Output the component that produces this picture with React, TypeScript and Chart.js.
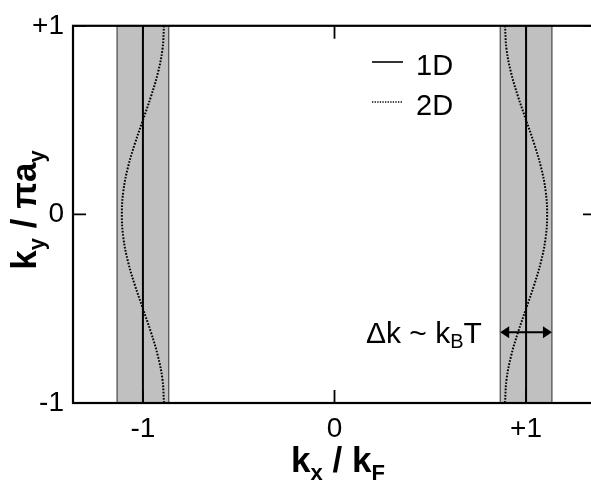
import React, { useEffect, useRef } from 'react';
import { Chart, registerables } from 'chart.js';

Chart.register(...registerables);

const FONT = '"Liberation Sans", Arial, Helvetica, sans-serif';

// ---- data ----
const xTickValues = [-1, 0, 1];
const xTickLabels = ['-1', '0', '+1'];
const yTickValues = [-1, 0, 1];
const yTickLabels = ['-1', '0', '+1'];
const xRange = [-1.365, 1.365];
const yRange = [-1, 1];
const fermiLines1D = [-1, 1];
const bandLeft = [-1.135, -0.865];
const bandRight = [0.865, 1.135];
const curveY = [-1, -0.875, -0.75, -0.625, -0.5, -0.375, -0.25, -0.125, 0, 0.125, 0.25, 0.375, 0.5, 0.625, 0.75, 0.875, 1];
const curveLeftX = [-0.89, -0.898, -0.922, -0.958, -1.0, -1.042, -1.078, -1.102, -1.11, -1.102, -1.078, -1.042, -1.0, -0.958, -0.922, -0.898, -0.89];
const curveRightX = [0.89, 0.898, 0.922, 0.958, 1.0, 1.042, 1.078, 1.102, 1.11, 1.102, 1.078, 1.042, 1.0, 0.958, 0.922, 0.898, 0.89];
const arrowY = -0.625;
const legendLabels = ['1D', '2D'];

type Part = { t: string; font: string; dy: number };

function drawRich(ctx: CanvasRenderingContext2D, parts: Part[], cx: number, baseY: number) {
  let total = 0;
  parts.forEach((p) => {
    ctx.font = p.font;
    total += ctx.measureText(p.t).width;
  });
  let x = cx - total / 2;
  ctx.textAlign = 'left';
  ctx.textBaseline = 'alphabetic';
  parts.forEach((p) => {
    ctx.font = p.font;
    ctx.fillText(p.t, x, baseY + p.dy);
    x += ctx.measureText(p.t).width;
  });
}

const decor = {
  id: 'decor',
  beforeDatasetsDraw(chart: any) {
    const { ctx, chartArea, scales } = chart;
    const { top, bottom } = chartArea;
    ctx.save();
    ctx.fillStyle = '#c0c0c0';
    [bandLeft, bandRight].forEach(([a, b]) => {
      const xa = scales.x.getPixelForValue(a);
      const xb = scales.x.getPixelForValue(b);
      ctx.fillRect(xa, top, xb - xa, bottom - top);
    });
    ctx.restore();
  },
  afterDatasetsDraw(chart: any) {
    const { ctx, chartArea, scales } = chart;
    const { left, right, top, bottom } = chartArea;
    const xs = scales.x;
    const ys = scales.y;
    ctx.save();
    // frame
    ctx.strokeStyle = '#000';
    ctx.lineWidth = 2.2;
    ctx.strokeRect(left, top, right - left, bottom - top);
    // inward ticks
    ctx.lineWidth = 1.8;
    const tl = 13;
    ctx.beginPath();
    xTickValues.forEach((v) => {
      const px = xs.getPixelForValue(v);
      ctx.moveTo(px, bottom);
      ctx.lineTo(px, bottom - tl);
      ctx.moveTo(px, top);
      ctx.lineTo(px, top + tl);
    });
    yTickValues.forEach((v) => {
      const py = ys.getPixelForValue(v);
      ctx.moveTo(left, py);
      ctx.lineTo(left + tl, py);
      ctx.moveTo(right, py);
      ctx.lineTo(right - tl, py);
    });
    ctx.stroke();

    // double arrow across right band
    const ay = ys.getPixelForValue(arrowY);
    const ax1 = xs.getPixelForValue(bandRight[0]);
    const ax2 = xs.getPixelForValue(bandRight[1]);
    const ah = 9;
    const aw = 6;
    ctx.lineWidth = 2;
    ctx.beginPath();
    ctx.moveTo(ax1 + ah - 1, ay);
    ctx.lineTo(ax2 - ah + 1, ay);
    ctx.stroke();
    ctx.fillStyle = '#000';
    ctx.beginPath();
    ctx.moveTo(ax1, ay);
    ctx.lineTo(ax1 + ah, ay - aw);
    ctx.lineTo(ax1 + ah, ay + aw);
    ctx.closePath();
    ctx.fill();
    ctx.beginPath();
    ctx.moveTo(ax2, ay);
    ctx.lineTo(ax2 - ah, ay - aw);
    ctx.lineTo(ax2 - ah, ay + aw);
    ctx.closePath();
    ctx.fill();

    // legend
    ctx.lineWidth = 1.6;
    ctx.beginPath();
    ctx.moveTo(372, 62);
    ctx.lineTo(403, 62);
    ctx.stroke();
    ctx.lineWidth = 1.4;
    ctx.setLineDash([1.3, 1.3]);
    ctx.beginPath();
    ctx.moveTo(372, 102);
    ctx.lineTo(403, 102);
    ctx.stroke();
    ctx.setLineDash([]);
    ctx.font = `29px ${FONT}`;
    ctx.textAlign = 'left';
    ctx.textBaseline = 'alphabetic';
    ctx.fillText(legendLabels[0], 416, 75);
    ctx.fillText(legendLabels[1], 416, 115);

    // annotation
    const big = `30px ${FONT}`;
    const small = `20px ${FONT}`;
    let x = 366;
    const by = 343;
    ctx.font = big;
    ctx.fillText('Δk ~ k', x, by);
    x += ctx.measureText('Δk ~ k').width;
    ctx.font = small;
    ctx.fillText('B', x, by + 5);
    x += ctx.measureText('B').width;
    ctx.font = big;
    ctx.fillText('T', x, by);

    // axis titles
    const tb = `bold 35px ${FONT}`;
    const ts = `bold 22px ${FONT}`;
    ctx.fillStyle = '#000';
    drawRich(
      ctx,
      [
        { t: 'k', font: tb, dy: 0 },
        { t: 'x', font: ts, dy: 8 },
        { t: ' / k', font: tb, dy: 0 },
        { t: 'F', font: ts, dy: 8 },
      ],
      338,
      472
    );
    ctx.save();
    ctx.translate(36, 210);
    ctx.rotate(-Math.PI / 2);
    drawRich(
      ctx,
      [
        { t: 'k', font: tb, dy: 0 },
        { t: 'y', font: ts, dy: 8 },
        { t: ' / πa', font: tb, dy: 0 },
        { t: 'y', font: ts, dy: 8 },
      ],
      0,
      0
    );
    ctx.restore();
    ctx.restore();
  },
};

function vline(xv: number, color: string, width: number) {
  return {
    data: [
      { x: xv, y: yRange[0] },
      { x: xv, y: yRange[1] },
    ],
    borderColor: color,
    borderWidth: width,
    showLine: true,
    pointRadius: 0,
  };
}

export default function App() {
  const ref = useRef<HTMLCanvasElement | null>(null);
  useEffect(() => {
    document.body.style.margin = '0';
    if (!ref.current) return;
    const datasets: any[] = [];
    [...bandLeft, ...bandRight].forEach((v) => datasets.push(vline(v, '#3a3a3a', 1.1)));
    fermiLines1D.forEach((v) => datasets.push(vline(v, '#000', 2)));
    [curveLeftX, curveRightX].forEach((arr) =>
      datasets.push({
        data: arr.map((xv, i) => ({ x: xv, y: curveY[i] })),
        borderColor: '#000',
        borderWidth: 2,
        borderDash: [1.7, 1.5],
        showLine: true,
        pointRadius: 0,
        tension: 0.4,
      })
    );
    const chart = new Chart(ref.current, {
      type: 'scatter',
      data: { datasets },
      options: {
        responsive: false,
        animation: false,
        devicePixelRatio: 1,
        layout: { padding: { left: 0, right: 24, top: 20, bottom: 0 } },
        plugins: { legend: { display: false }, tooltip: { enabled: false } },
        scales: {
          x: {
            type: 'linear',
            min: xRange[0],
            max: xRange[1],
            grid: { display: false, drawTicks: false },
            border: { display: false },
            afterBuildTicks: (s: any) => {
              s.ticks = xTickValues.map((v) => ({ value: v }));
            },
            afterFit: (s: any) => {
              s.height = 78;
            },
            ticks: {
              font: { family: FONT, size: 28 },
              color: '#000',
              padding: 9,
              maxRotation: 0,
              autoSkip: false,
              callback: (v: any) => xTickLabels[xTickValues.indexOf(Number(v))] ?? '',
            },
          },
          y: {
            type: 'linear',
            min: yRange[0],
            max: yRange[1],
            grid: { display: false, drawTicks: false },
            border: { display: false },
            afterBuildTicks: (s: any) => {
              s.ticks = yTickValues.map((v) => ({ value: v }));
            },
            afterFit: (s: any) => {
              s.width = 73;
            },
            ticks: {
              font: { family: FONT, size: 28 },
              color: '#000',
              padding: 9,
              autoSkip: false,
              callback: (v: any) => yTickLabels[yTickValues.indexOf(Number(v))] ?? '',
            },
          },
        },
      } as any,
      plugins: [decor as any],
    });
    return () => chart.destroy();
  }, []);
  return (
    <div style={{ position: 'fixed', left: 0, top: 0, width: 591, height: 481, overflow: 'hidden', background: '#fff' }}>
      <canvas ref={ref} width={620} height={481} style={{ width: 620, height: 481, display: 'block' }} />
    </div>
  );
}
